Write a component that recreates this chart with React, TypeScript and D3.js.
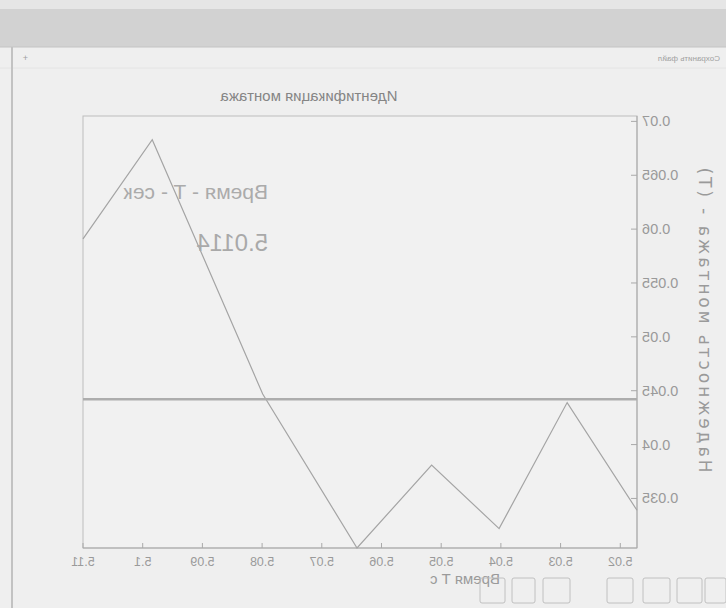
import React from "react";
import * as d3 from "d3";

const W = 726;
const H = 608;

const timeValues = [5.11, 5.0984, 5.0799, 5.0641, 5.0516, 5.0403, 5.0289, 5.0172];
const reliabilityValues = [0.0591, 0.0683, 0.0447, 0.0304, 0.0381, 0.0322, 0.0439, 0.0339];
const xTicks = [5.02, 5.03, 5.04, 5.05, 5.06, 5.07, 5.08, 5.09, 5.1, 5.11];
const yTicks = [0.035, 0.04, 0.045, 0.05, 0.055, 0.06, 0.065, 0.07];
const cursorLevel = 0.0442;
const cursorTime = "5.0114";
const titleText = "Идентификация монтажа";
const xLabel = "Время  T c";
const yLabel = "Надежность монтажа - (T)";
const cursorLabel = "Время - T - сек";
const saveLabel = "Сохранить файл";

const M = { left: 89, right: 643, top: 116, bottom: 548 };

export default function App() {
  const x = d3.scaleLinear().domain([5.0172, 5.11]).range([M.left, M.right]);
  const y = d3.scaleLinear().domain([0.0304, 0.0705]).range([M.bottom, M.top]);
  const pts = timeValues.map((t, i) => [t, reliabilityValues[i]] as [number, number]);
  const line = d3
    .line<[number, number]>()
    .x((d) => x(d[0]))
    .y((d) => y(d[1]));
  const fmt = (v: number) => String(+v.toFixed(4));
  const font = "Liberation Sans, Arial, sans-serif";
  const stroke = "#a9a9a9";
  const txt = "#9a9a9a";
  const buttons = [
    [0, 21], [24, 25], [56, 27], [93, 26], [156, 27], [191, 23], [221, 25],
  ];

  return (
    <svg
      width={W}
      height={H}
      style={{ position: "fixed", left: 0, top: 0, display: "block" }}
      fontFamily={font}
    >
      <rect x={0} y={0} width={W} height={H} fill="#efefef" />
      <g transform={`translate(${W},0) scale(-1,1)`}>
        {/* window chrome */}
        <rect x={0} y={0} width={W} height={9} fill="#e6e6e6" />
        <rect x={0} y={9} width={W} height={38} fill="#d2d2d2" />
        <line x1={0} x2={W} y1={47} y2={47} stroke="#c4c4c4" />
        <line x1={0} x2={W} y1={68} y2={68} stroke="#e4e4e4" />
        <line x1={714} x2={714} y1={47} y2={H} stroke="#c2c2c2" strokeWidth={2} />
        <text x={6} y={61} fontSize={8} fill="#a0a0a0">{saveLabel}</text>
        <text x={698} y={61} fontSize={9} fill="#a0a0a0">+</text>

        {/* plot frame */}
        <rect
          x={M.left}
          y={M.top}
          width={M.right - M.left}
          height={M.bottom - M.top}
          fill="#f1f1f1"
          stroke="#bdbdbd"
        />

        {/* title */}
        <text x={417} y={101} fontSize={15} fill="#858585" textAnchor="middle">
          {titleText}
        </text>

        {/* y axis */}
        <line x1={M.left} x2={M.left} y1={M.top} y2={M.bottom} stroke={stroke} />
        {yTicks.map((v) => (
          <g key={v}>
            <line x1={M.left} x2={M.left + 6} y1={y(v)} y2={y(v)} stroke={stroke} />
            <text x={M.left - 5} y={y(v) + 5} fontSize={14.5} fill={txt} textAnchor="end">
              {fmt(v)}
            </text>
          </g>
        ))}
        <text
          transform={`translate(${27},${320}) rotate(-90)`}
          fontSize={17}
          fontFamily="DejaVu Sans, sans-serif"
          fill={txt}
          textAnchor="middle"
          textLength={305}
          lengthAdjust="spacing"
        >
          {yLabel}
        </text>

        {/* x axis */}
        <line x1={M.left} x2={M.right} y1={M.bottom} y2={M.bottom} stroke={stroke} />
        {xTicks.map((v) => (
          <g key={v}>
            <line x1={x(v)} x2={x(v)} y1={M.bottom} y2={M.bottom - 5} stroke={stroke} />
            <text x={x(v)} y={M.bottom + 18} fontSize={12.5} fill={txt} textAnchor="middle">
              {fmt(v)}
            </text>
          </g>
        ))}
        <text x={261} y={584} fontSize={15} fill={txt} textAnchor="middle">
          {xLabel}
        </text>

        {/* data line */}
        <path d={line(pts) || ""} fill="none" stroke="#a4a4a4" strokeWidth={1.2} />

        {/* cursor line */}
        <line
          x1={M.left}
          x2={M.right}
          y1={y(cursorLevel)}
          y2={y(cursorLevel)}
          stroke="#adadad"
          strokeWidth={2.5}
        />
        <text x={458} y={199} fontSize={21} fill="#ababab">{cursorLabel}</text>
        <text x={458} y={251} fontSize={24} fill="#a9a9a9">{cursorTime}</text>

        {/* buttons */}
        {buttons.map(([bx, bw], i) => (
          <rect
            key={i}
            x={bx}
            y={578}
            width={bw}
            height={25}
            rx={2}
            fill="none"
            stroke="#c0c0c0"
          />
        ))}
      </g>
    </svg>
  );
}
